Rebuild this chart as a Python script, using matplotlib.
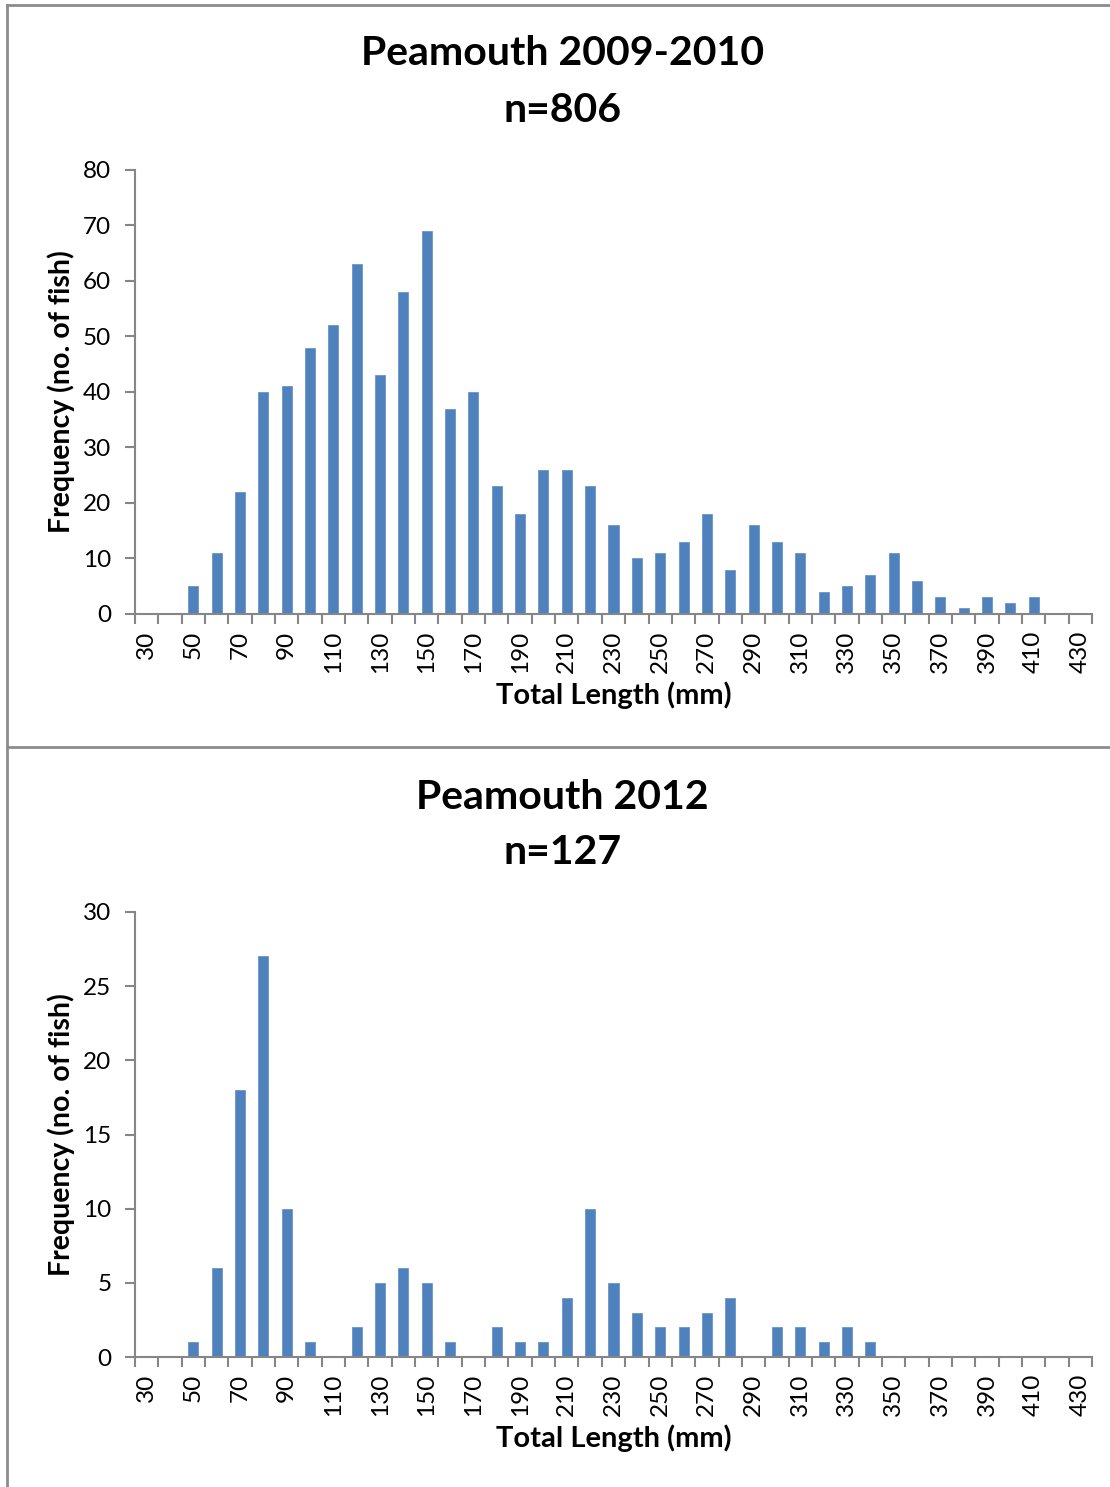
import matplotlib
matplotlib.use("Agg")
import matplotlib.pyplot as plt
from matplotlib.lines import Line2D

plt.rcParams["font.family"] = ["Lato", "DejaVu Sans"]

# length classes (mm), one bar per 10 mm bin
LENGTHS = list(range(30, 440, 10))
TICK_LABELS = [str(v) if (v - 30) % 20 == 0 else "" for v in LENGTHS]

COUNTS_0910 = [0, 0, 5, 11, 22, 40, 41, 48, 52, 63, 43, 58, 69, 37, 40, 23, 18, 26, 26, 23,
               16, 10, 11, 13, 18, 8, 16, 13, 11, 4, 5, 7, 11, 6, 3, 1, 3, 2, 3, 0, 0]
COUNTS_2012 = [0, 0, 1, 6, 18, 27, 10, 1, 0, 2, 5, 6, 5, 1, 0, 2, 1, 1, 4, 10,
               5, 3, 2, 2, 3, 4, 0, 2, 2, 1, 2, 1, 0, 0, 0, 0, 0, 0, 0, 0, 0]

PANELS = [
    (("Peamouth 2009-2010", "n=806"), COUNTS_0910, 80, 10),
    (("Peamouth 2012", "n=127"), COUNTS_2012, 30, 5),
]

BAR = "#4f81bd"
GRID = "#868686"

fig = plt.figure(figsize=(11.10, 14.87), dpi=100)

# panel frames (gray lines like the spreadsheet chart borders)
for seg in [((0.0063, 1.0), (0.9966, 0.9966)),
            ((0.0063, 0.0063), (0.0, 0.9966)),
            ((0.0063, 1.0), (0.4977, 0.4977))]:
    fig.add_artist(Line2D(seg[0], seg[1], color="#8c8c8c", lw=2, transform=fig.transFigure))

ax_rects = [[0.1216, 0.5871, 0.8622, 0.2986], [0.1216, 0.0874, 0.8622, 0.2993]]
title_y = [(0.9637, 0.926), (0.4640, 0.4270)]

for (titles, counts, ymax, ystep), rect, ty in zip(PANELS, ax_rects, title_y):
    ax = fig.add_axes(rect)
    x = list(range(len(LENGTHS)))
    ax.bar(x, counts, width=0.43, color=BAR, edgecolor="#6a95c9", lw=0.6)
    ax.set_xlim(-0.5, len(LENGTHS) - 0.5)
    ax.set_ylim(0, ymax)
    ax.set_yticks(range(0, ymax + 1, ystep))
    ax.set_xticks(x)
    ax.set_xticklabels(TICK_LABELS, rotation=90, fontsize=17.5)
    ax.set_xticks([i - 0.5 for i in range(len(LENGTHS) + 1)], minor=True)
    ax.tick_params(axis="x", which="major", length=0, pad=12)
    ax.tick_params(axis="x", which="minor", length=7, width=1.5, color=GRID, direction="out")
    ax.tick_params(axis="y", length=7, width=1.5, color=GRID, labelsize=17.5, pad=10)
    for s in ["top", "right"]:
        ax.spines[s].set_visible(False)
    for s in ["left", "bottom"]:
        ax.spines[s].set_color(GRID)
        ax.spines[s].set_linewidth(1.5)
    ax.set_xlabel("Total Length (mm)", fontsize=21, fontweight="bold", labelpad=6)
    ax.set_ylabel("Frequency (no. of fish)", fontsize=20.5, fontweight="bold", labelpad=6)
    for t, yy in zip(titles, ty):
        fig.text(0.507, yy, t, ha="center", va="center", fontsize=29.5, fontweight="bold")

fig.savefig("out.png", dpi=100)
